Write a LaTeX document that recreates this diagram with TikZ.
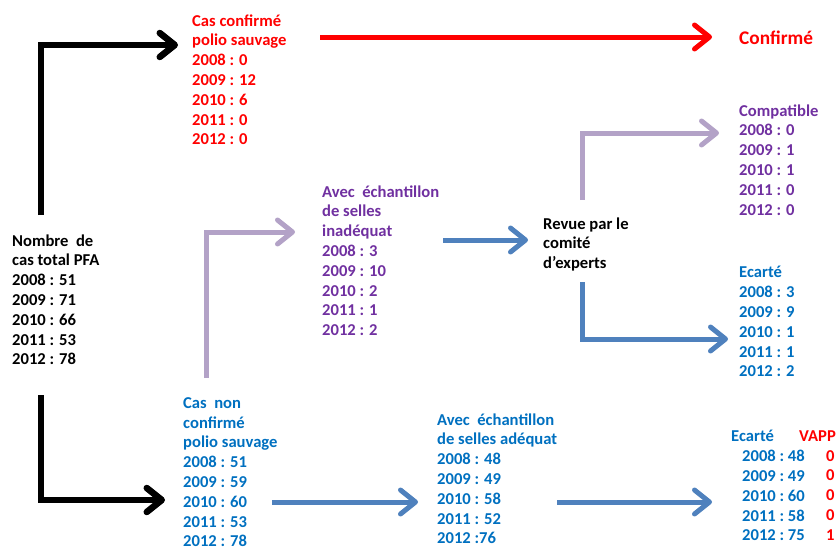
\documentclass[tikz,border=0pt]{standalone}
\usepackage{fontspec}
\setmainfont{Carlito}
\usetikzlibrary{arrows.meta,calc,positioning}
\definecolor{flowblue}{HTML}{4F81BD}
\definecolor{textblue}{HTML}{0070C0}
\definecolor{textpurple}{HTML}{7030A0}
\definecolor{lilac}{HTML}{B3A2C7}
\tikzset{
  block/.style={anchor=north west,inner sep=0pt,align=left,
    font=\fontsize{16.6}{19.8}\selectfont\bfseries},
  flow/.style={line width=5pt,-{Straight Barb[length=15pt,width=24pt,round]}},
  blackflow/.style={flow,line width=6.5pt,black},
}

\begin{document}
\begin{tikzpicture}[x=1pt,y=-1pt]
\useasboundingbox (0,0) rectangle (840,550);
\node[block,text=black] (pfa) at (12,234.3) {Nombre\ \ de\\cas total PFA\\2008 : 51\\2009 : 71\\2010 : 66\\2011 : 53\\2012 : 78};
\node[block,text=red] (wild) at (192,14.3) {Cas confirmé\\polio sauvage\\2008 : 0\\2009 : 12\\2010 : 6\\2011 : 0\\2012 : 0};
\node[anchor=base west,inner sep=0pt,text=red,font=\fontsize{19.3}{22}\selectfont\bfseries] (conf) at (739,44) {Confirmé};
\node[block,text=textblue] (nonwild) at (183,397.3) {Cas\ \ non\\confirmé\\polio sauvage\\2008 : 51\\2009 : 59\\2010 : 60\\2011 : 53\\2012 : 78};
\node[block,text=textpurple] (inad) at (322,185.3) {Avec\ \ échantillon\\de selles\\inadéquat\\2008 : 3\\2009 : 10\\2010 : 2\\2011 : 1\\2012 : 2};
\node[block,text=black] (revue) at (543,217.3) {Revue par le\\comité\\d’experts};
\node[block,text=textpurple] (compat) at (739,104.3) {Compatible\\2008 : 0\\2009 : 1\\2010 : 1\\2011 : 0\\2012 : 0};
\node[block,text=textblue] (ecartA) at (739,266.3) {Ecarté\\2008 : 3\\2009 : 9\\2010 : 1\\2011 : 1\\2012 : 2};
\node[block,text=textblue] (adeq) at (437,413.3) {Avec\ \ échantillon\\de selles adéquat\\2008 : 48\\2009 : 49\\2010 : 58\\2011 : 52\\2012 :76};
\node[block,text=textblue] (ecartB) at (731,430.3) {Ecarté\\\hspace*{11pt}2008\ :\ 48\\\hspace*{11pt}2009\ :\ 49\\\hspace*{11pt}2010\ :\ 60\\\hspace*{11pt}2011\ :\ 58\\\hspace*{11pt}2012\ :\ 75};
\node[block,text=red] (vapp) at (799,430.3) {VAPP\\\hspace*{27pt}0\\\hspace*{27pt}0\\\hspace*{27pt}0\\\hspace*{27pt}0\\\hspace*{27pt}1};
\draw[blackflow] ($(pfa.north west)+(29,-19.3)$) |- ($(wild.north west)+(-14,30.7)$);
\draw[blackflow] ($(pfa.north west)+(29,160.7)$) |- ($(nonwild.north west)+(-18,102.7)$);
\draw[flow,red] ($(wild.north west)+(128,22.7)$) -- ($(conf.base west)+(-27,-7)$);
\draw[flow,lilac] ($(nonwild.north west)+(23,-19.3)$) |- ($(inad.north west)+(-27,46.7)$);
\draw[flow,flowblue] ($(inad.north west)+(121,54.7)$) -- ($(revue.north west)+(-15,22.7)$);
\draw[flow,lilac] ($(revue.north west)+(39,-17.3)$) |- ($(compat.north west)+(-20,28.7)$);
\draw[flow,flowblue] ($(revue.north west)+(39,64.7)$) |- ($(ecartA.north west)+(-11,72.7)$);
\draw[flow,flowblue] ($(nonwild.north west)+(89,104.7)$) -- ($(adeq.north west)+(-19,88.7)$);
\draw[flow,flowblue] ($(adeq.north west)+(120,88.7)$) -- ($(ecartB.north west)+(-19,71.7)$);
\end{tikzpicture}
\end{document}
